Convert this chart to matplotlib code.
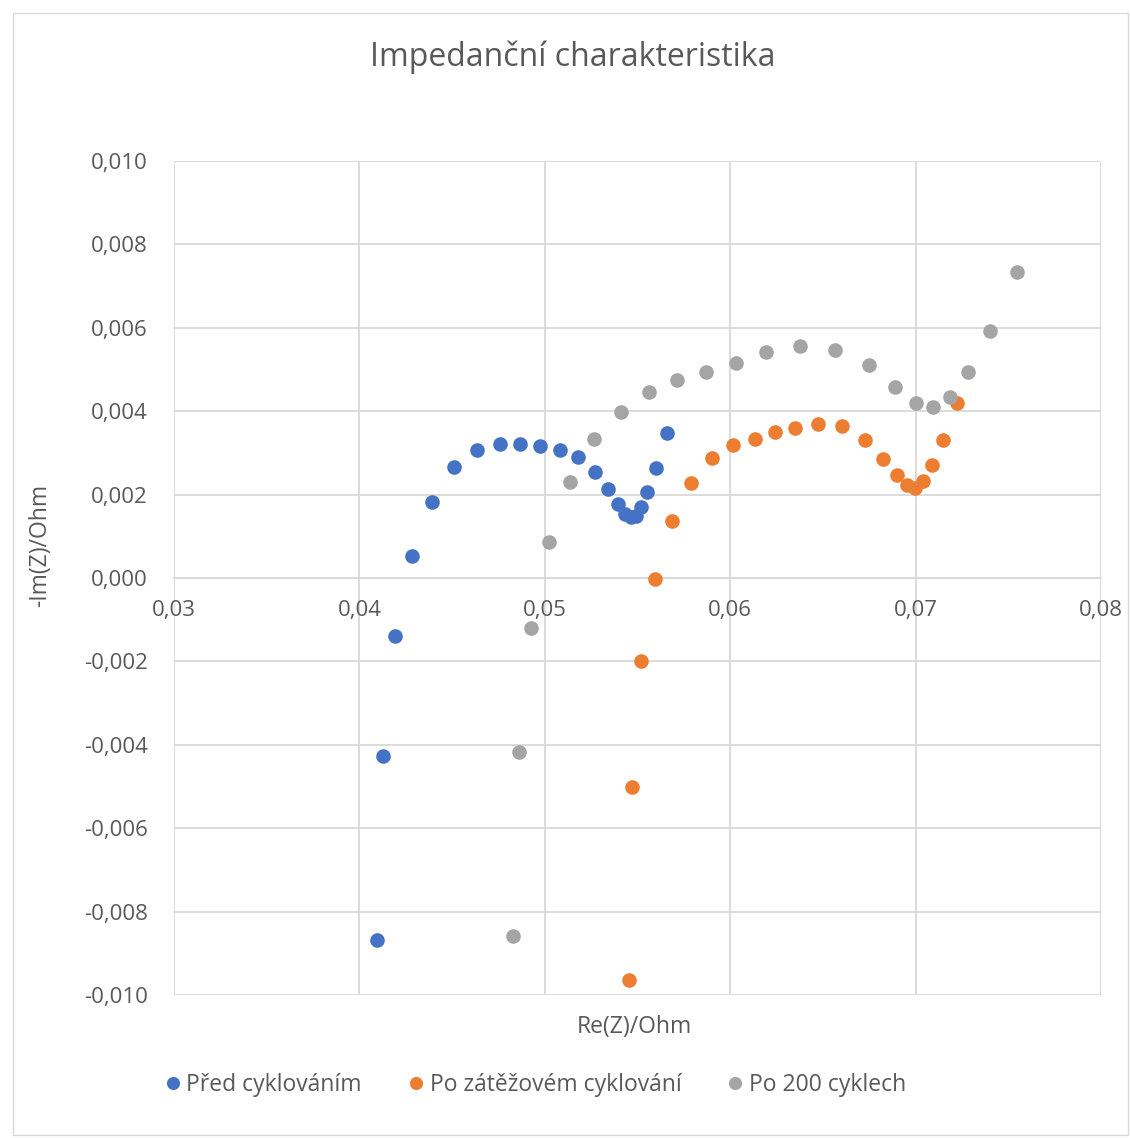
import matplotlib
matplotlib.use("Agg")
import matplotlib.pyplot as plt
from matplotlib.ticker import FuncFormatter, MultipleLocator
from matplotlib.patches import Rectangle

# data (Re(Z), -Im(Z)) in Ohm
pred_re = [0.04095, 0.04127, 0.04192, 0.04282, 0.0439, 0.04512, 0.04633, 0.04758,
           0.04866, 0.04972, 0.05082, 0.05181, 0.05273, 0.05341, 0.05393, 0.05433,
           0.05463, 0.05492, 0.05517, 0.05553, 0.05600, 0.05661]
pred_im = [-0.00868, -0.00427, -0.00139, 0.000535, 0.00183, 0.00265, 0.00307, 0.00321,
           0.00321, 0.00317, 0.00308, 0.00289, 0.00254, 0.00213, 0.00177, 0.00153,
           0.00146, 0.00149, 0.00170, 0.00206, 0.00263, 0.00348]

zatez_re = [0.05454, 0.05470, 0.05519, 0.05594, 0.05686, 0.05790, 0.05902, 0.06013,
            0.06132, 0.06242, 0.06351, 0.06474, 0.06603, 0.06729, 0.06826, 0.06898,
            0.06952, 0.06999, 0.07042, 0.07090, 0.07150, 0.07225]
zatez_im = [-0.00964, -0.00501, -0.00199, -0.00002, 0.00136, 0.00227, 0.00288, 0.00319,
            0.00333, 0.00350, 0.00359, 0.00370, 0.00364, 0.00332, 0.00285, 0.00246,
            0.00222, 0.00215, 0.00232, 0.00270, 0.00330, 0.00420]

c200_re = [0.04829, 0.04861, 0.04926, 0.05021, 0.05134, 0.05267, 0.05413, 0.05560,
           0.05715, 0.05868, 0.06031, 0.06191, 0.06377, 0.06565, 0.06747, 0.06890,
           0.07000, 0.07096, 0.07186, 0.07284, 0.07401, 0.07549]
c200_im = [-0.00858, -0.00417, -0.00120, 0.00087, 0.00231, 0.00333, 0.00398, 0.00446,
           0.00476, 0.00495, 0.00516, 0.00541, 0.00556, 0.00547, 0.00510, 0.00457,
           0.00420, 0.00410, 0.00434, 0.00494, 0.00593, 0.00735]

series = [
    ("Před cyklováním", pred_re, pred_im, "#4472C4"),
    ("Po zátěžovém cyklování", zatez_re, zatez_im, "#ED7D31"),
    ("Po 200 cyklech", c200_re, c200_im, "#A5A5A5"),
]

plt.rcParams["font.family"] = ["Open Sans", "DejaVu Sans"]
txt = "#595959"

fig = plt.figure(figsize=(11.3, 11.38), dpi=100)
ax = fig.add_axes([174 / 1130, 1 - 995 / 1138, 927 / 1130, 834 / 1138])

for name, xs, ys, col in series:
    ax.plot(xs, ys, "o", color=col, ms=10.5, mec="none", label=name, zorder=3)

ax.set_xlim(0.03, 0.08)
ax.set_ylim(-0.010, 0.010)
ax.xaxis.set_major_locator(MultipleLocator(0.01))
ax.yaxis.set_major_locator(MultipleLocator(0.002))
ax.xaxis.set_major_formatter(FuncFormatter(lambda v, p: f"{v:.2f}".replace(".", ",")))
ax.yaxis.set_major_formatter(FuncFormatter(lambda v, p: f"{v:.3f}".replace(".", ",").replace("-0,000", "0,000")))

# mřížka
ax.grid(True, color="#d9d9d9", lw=1.3, zorder=0)
ax.set_axisbelow(True)
for s in ["top", "right", "left"]:
    ax.spines[s].set_visible(False)
ax.spines["bottom"].set_position(("data", 0))
ax.spines["bottom"].set_color("#d9d9d9")
ax.spines["bottom"].set_linewidth(1.3)
ax.tick_params(length=0, labelsize=16, colors=txt)
ax.tick_params(axis="x", pad=16)
ax.tick_params(axis="y", pad=19)

fig.text(573 / 1130, 1 - 57 / 1138, "Impedanční charakteristika", ha="center", va="center",
         fontsize=23, color=txt)
fig.text(634 / 1130, 1 - 1027 / 1138, "Re(Z)/Ohm", ha="center", va="center", fontsize=16.5, color=txt)
fig.text(40 / 1130, 1 - 545 / 1138, "-Im(Z)/Ohm", ha="center", va="center", fontsize=16.5,
         color=txt, rotation=90)

fig.legend(loc="center", bbox_to_anchor=(536 / 1130, 1 - 1085 / 1138), ncol=3, frameon=False,
           fontsize=16.5, labelcolor=txt, handlelength=0.6, handletextpad=0.3,
           columnspacing=2.05, markerscale=0.9)

fig.patches.append(Rectangle((13 / 1130, 3 / 1138), 1115 / 1130, 1122 / 1138, transform=fig.transFigure,
                             fill=False, edgecolor="#d9d9d9", lw=1))

fig.savefig("out.png", dpi=100)
